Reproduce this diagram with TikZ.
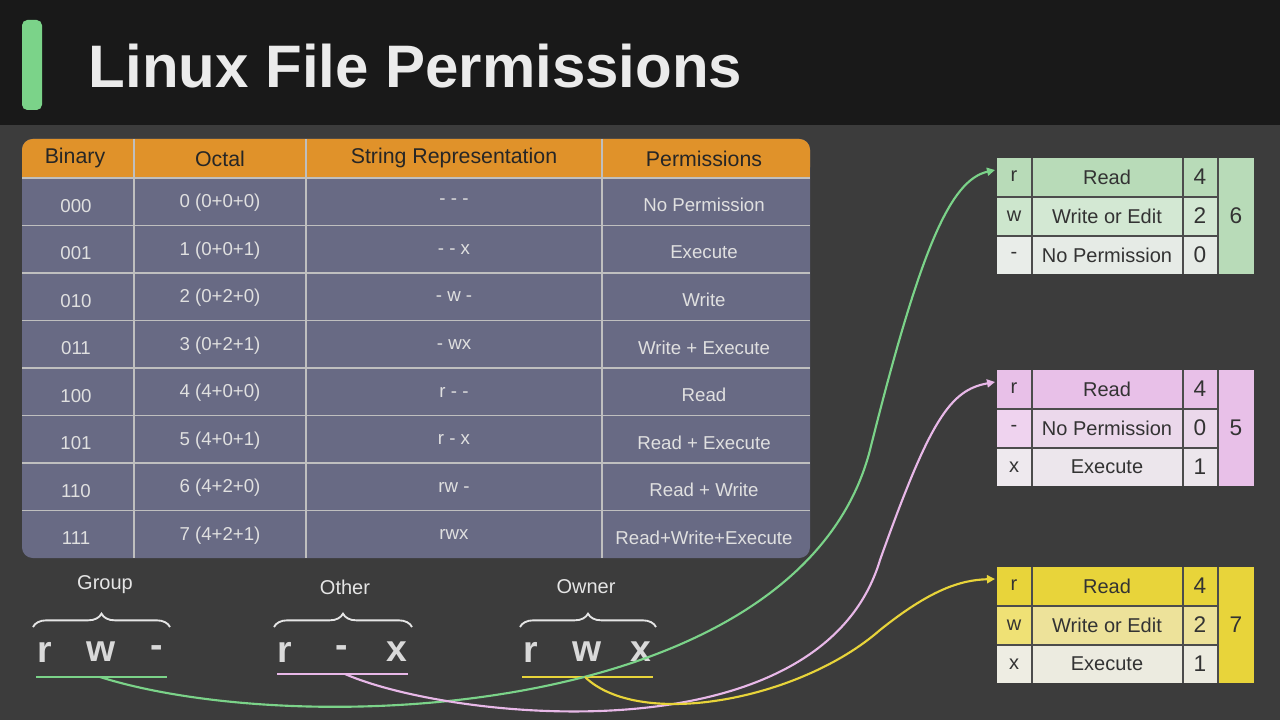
\documentclass[tikz,border=0pt]{standalone}
\usepackage{fontspec}
\setmainfont{Liberation Sans}
\usetikzlibrary{arrows.meta,decorations.pathreplacing}
\definecolor{bg}{HTML}{3C3C3C}
\definecolor{orng}{HTML}{E0922A}
\definecolor{slate}{HTML}{686A84}
\definecolor{grn}{HTML}{7BD389}
\definecolor{pnk}{HTML}{E8B8E8}
\definecolor{ylw}{HTML}{E8D43A}
\definecolor{gA}{HTML}{B8DBB8}\definecolor{gB}{HTML}{D3E8D3}\definecolor{gC}{HTML}{E6EBE6}
\definecolor{pA}{HTML}{E8C0E8}\definecolor{pB}{HTML}{EBD8EB}\definecolor{pC}{HTML}{ECE6EC}
\definecolor{yA}{HTML}{E8D43A}\definecolor{yB}{HTML}{EDE29A}\definecolor{yC}{HTML}{ECEBE0}
\begin{document}
\begin{tikzpicture}[x=0.75pt,y=-0.75pt,
  cellt/.style={font=\fontsize{14}{16}\selectfont,text=white!88!black},
  headt/.style={font=\fontsize{16}{18}\selectfont,text=black!85},
  boxt/.style={font=\fontsize{15}{17}\selectfont,text=black!80},
  letr/.style={font=\bfseries\fontsize{28}{30}\selectfont,text=white!85!black},
  labt/.style={font=\fontsize{15}{17}\selectfont,text=white!90!black},
  brc/.style={draw=white!90!black,line width=1.4pt,decorate,decoration={brace,amplitude=10pt}},
  link/.style={line width=1.6pt,-{Triangle[length=6pt,width=6pt]}}]
\useasboundingbox (0,0) rectangle (1280,720);
\fill[bg] (0,0) rectangle (1280,720);
\fill[black!90] (0,0) rectangle (1280,125);
\fill[grn,rounded corners=4pt] (22,20) rectangle (42,110);
\node[anchor=west,font=\bfseries\fontsize{45}{50}\selectfont,text=white!92!black] (title) at (84,66) {Linux File Permissions};
% table
\fill[slate,rounded corners=8pt] (22,139) rectangle (810,558);
\fill[orng,rounded corners=8pt] (22,139) rectangle (810,178);
\fill[orng] (22,160) rectangle (810,178);
\foreach \yy in {178,225.5,273,320.5,368,415.5,463,510.5}
  \draw[white!75!black,line width=0.8pt] (22,\yy) -- (810,\yy);
\foreach \xx in {134,306,602}
  \draw[white!75!black,line width=0.8pt] (\xx,139) -- (\xx,558);
\node[headt] (h1) at (75,158) {Binary};
\node[headt] (h2) at (220,159) {Octal};
\node[headt] (h3) at (454,158) {String Representation};
\node[headt] (h4) at (704,159) {Permissions};
\foreach \b/\o/\s/\p [count=\i from 0] in {000/0 (0+0+0)/- - -/No Permission,001/1 (0+0+1)/- - x/Execute,010/2 (0+2+0)/- w -/Write,011/3 (0+2+1)/- wx/Write + Execute,100/4 (4+0+0)/r - -/Read,101/5 (4+0+1)/r - x/Read + Execute,110/6 (4+2+0)/rw -/Read + Write,111/7 (4+2+1)/rwx/Read+Write+Execute}{
  \pgfmathsetmacro\yc{203+47.5*\i}
  \node[cellt] (b\i) at (76,\yc+3) {\b};
  \node[cellt] (o\i) at (220,\yc) {\o};
  \node[cellt] (s\i) at (454,\yc-1) {\s};
  \node[cellt] (p\i) at (704,\yc+2) {\p};
}
% right boxes
\foreach \t/\A/\B/\C/\la/\lb/\lc/\ta/\tb/\tc/\na/\nb/\nc/\tot/\nm in
 {158/gA/gB/gC/r/w/-/Read/Write or Edit/No Permission/4/2/0/6/g,
  370/pA/pB/pC/r/-/x/Read/No Permission/Execute/4/0/1/5/p,
  567/yA/yB/yC/r/w/x/Read/Write or Edit/Execute/4/2/1/7/y}{
  \pgfmathsetmacro\ya{\t+39}\pgfmathsetmacro\yb{\t+78}\pgfmathsetmacro\yd{\t+116}
  \fill[\A] (997,\t) rectangle (1254,\ya);
  \fill[\B] (997,\ya) rectangle (1218,\yb);
  \fill[\C] (997,\yb) rectangle (1218,\yd);
  \fill[\A] (1218,\t) rectangle (1254,\yd);
  \fill[\A!70!white] (997,\ya) rectangle (1032,\yb);
  \fill[\C!90!white] (997,\yb) rectangle (1032,\yd);
  \foreach \xx in {1032,1183,1218} \draw[black!70,line width=1pt] (\xx,\t) -- (\xx,\yd);
  \draw[black!70,line width=1pt] (997,\ya) -- (1218,\ya) (997,\yb) -- (1218,\yb);
  \node[boxt] (\nm la) at (1014,\t+18) {\la};
  \node[boxt] (\nm lb) at (1014,\ya+19) {\lb};
  \node[boxt] (\nm lc) at (1014,\yb+19) {\lc};
  \node[boxt] (\nm ta) at (1107,\t+19) {\ta};
  \node[boxt] (\nm tb) at (1107,\ya+19) {\tb};
  \node[boxt] (\nm tc) at (1107,\yb+19) {\tc};
  \node[boxt,font=\fontsize{17}{19}\selectfont] (\nm na) at (1200,\t+19) {\na};
  \node[boxt,font=\fontsize{17}{19}\selectfont] (\nm nb) at (1200,\ya+19) {\nb};
  \node[boxt,font=\fontsize{17}{19}\selectfont] (\nm nc) at (1200,\yb+19) {\nc};
  \node[boxt,font=\fontsize{17}{19}\selectfont] (\nm tot) at (1236,\t+58) {\tot};
  \coordinate (\nm in) at (995,\t+12);
}
% bottom groups
\node[labt] (lg) at (105,585) {Group};
\node[labt] (lo) at (345,587) {Other};
\node[labt] (lw) at (586,587) {Owner};
\draw[brc] (33,627) -- (170,627);
\draw[brc] (274,627) -- (412,627);
\draw[brc] (520,627) -- (656,627);
\foreach \c/\xx [count=\k] in {r/45,w/101,-/157,r/285,-/342,x/397,r/531,w/587,x/641}
  \node[letr] (L\k) at (\xx,652) {\c};
\draw[grn,line width=1.6pt] (36,677) -- (167,677);
\draw[pnk,line width=1.6pt] (277,674) -- (408,674);
\draw[ylw,line width=1.6pt] (522,677) -- (653,677);
\coordinate (gstart) at (100,677);
\coordinate (pstart) at (345,674);
\coordinate (ystart) at (585,677);
\draw[link,grn] (gstart) .. controls (300,740) and (800,720) .. (870,450) .. controls (920,250) and (950,180) .. (gin);
\draw[link,pnk] (pstart) .. controls (450,720) and (820,760) .. (880,560) .. controls (930,420) and (950,390) .. (pin);
\draw[link,ylw] (ystart) .. controls (640,730) and (800,700) .. (880,630) .. controls (930,590) and (960,580) .. (yin);
\end{tikzpicture}
\end{document}
